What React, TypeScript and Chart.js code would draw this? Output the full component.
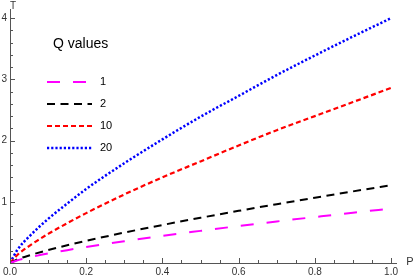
import React, { useEffect, useRef } from "react";
import { Chart, registerables } from "chart.js";

Chart.register(...registerables);

const P = [0, 0.02, 0.05, 0.1, 0.15, 0.2, 0.3, 0.4, 0.5, 0.6, 0.7, 0.8, 0.9, 1.0];
const q1 = [0, 0.046, 0.091, 0.155, 0.21, 0.262, 0.356, 0.444, 0.525, 0.604, 0.679, 0.751, 0.822, 0.89];
const q2 = [0, 0.06, 0.123, 0.211, 0.29, 0.362, 0.497, 0.621, 0.739, 0.852, 0.961, 1.067, 1.17, 1.27];
const q10 = [0, 0.135, 0.276, 0.475, 0.65, 0.815, 1.12, 1.4, 1.66, 1.92, 2.17, 2.4, 2.63, 2.86];
const q20 = [0, 0.22, 0.43, 0.72, 0.97, 1.21, 1.63, 2.02, 2.39, 2.73, 3.07, 3.39, 3.7, 4.0];

const seriesLabels = ["1", "2", "10", "20"];
const legendTitle = "Q values";
const xTitle = "P";
const yTitle = "T";

const xTickValues = [0, 0.05, 0.1, 0.15, 0.2, 0.25, 0.3, 0.35, 0.4, 0.45, 0.5, 0.55, 0.6, 0.65, 0.7, 0.75, 0.8, 0.85, 0.9, 0.95, 1.0];
const xMajor = [0, 0.2, 0.4, 0.6, 0.8, 1.0];
const yTickValues = [0.2, 0.4, 0.6, 0.8, 1, 1.2, 1.4, 1.6, 1.8, 2, 2.2, 2.4, 2.6, 2.8, 3, 3.2, 3.4, 3.6, 3.8, 4];
const yMajor = [1, 2, 3, 4];

const FONT = "'Liberation Sans', Arial, sans-serif";

const decorPlugin = {
  id: "decor",
  afterDraw(chart: any) {
    const ctx = chart.ctx;
    const xs = chart.scales.x;
    const ys = chart.scales.y;
    const area = chart.chartArea;
    ctx.save();
    ctx.strokeStyle = "#555";
    ctx.lineWidth = 1;
    xTickValues.forEach((v) => {
      const px = Math.round(xs.getPixelForValue(v)) + 0.5;
      const major = xMajor.some((m) => Math.abs(m - v) < 1e-6);
      const len = major ? 5 : 3;
      ctx.beginPath();
      ctx.moveTo(px, area.bottom);
      ctx.lineTo(px, area.bottom - len);
      ctx.stroke();
    });
    yTickValues.forEach((v) => {
      const py = Math.round(ys.getPixelForValue(v)) + 0.5;
      const major = yMajor.some((m) => Math.abs(m - v) < 1e-6);
      const len = major ? 5 : 3;
      ctx.beginPath();
      ctx.moveTo(area.left, py);
      ctx.lineTo(area.left + len, py);
      ctx.stroke();
    });
    ctx.fillStyle = "#333";
    ctx.font = `11px ${FONT}`;
    ctx.textAlign = "center";
    ctx.textBaseline = "middle";
    ctx.fillText(xTitle, area.right + 14, area.bottom - 1);
    ctx.font = `10px ${FONT}`;
    ctx.fillText(yTitle, area.left + 3, 6);
    ctx.fillStyle = "#000";
    ctx.font = `14px ${FONT}`;
    ctx.textAlign = "left";
    ctx.fillText(legendTitle, 53, 44);
    const rows = [82, 104, 126, 148];
    chart.data.datasets.forEach((ds: any, i: number) => {
      const y = rows[i];
      ctx.save();
      ctx.strokeStyle = ds.borderColor;
      ctx.lineWidth = ds.borderWidth;
      ctx.setLineDash(ds.borderDash || []);
      ctx.beginPath();
      ctx.moveTo(47, y);
      ctx.lineTo(92, y);
      ctx.stroke();
      ctx.restore();
      ctx.fillStyle = "#000";
      ctx.font = `11px ${FONT}`;
      ctx.textAlign = "left";
      ctx.textBaseline = "middle";
      ctx.fillText(ds.label, 100, y);
    });
    ctx.restore();
  },
};

export default function App() {
  const ref = useRef<HTMLCanvasElement | null>(null);
  useEffect(() => {
    if (!ref.current) return;
    const mk = (vals: number[]) => P.map((p, i) => ({ x: p, y: vals[i] }));
    const chart = new Chart(ref.current, {
      type: "line",
      data: {
        datasets: [
          { label: seriesLabels[0], data: mk(q1), borderColor: "#ff00ff", borderWidth: 2, borderDash: [13, 13] },
          { label: seriesLabels[1], data: mk(q2), borderColor: "#000000", borderWidth: 2, borderDash: [8, 5.5] },
          { label: seriesLabels[2], data: mk(q10), borderColor: "#ff0000", borderWidth: 2.2, borderDash: [5, 3] },
          { label: seriesLabels[3], data: mk(q20), borderColor: "#0000ff", borderWidth: 2.5, borderDash: [2.2, 2] },
        ] as any,
      },
      options: {
        animation: false,
        responsive: false,
        maintainAspectRatio: false,
        elements: { point: { radius: 0 }, line: { cubicInterpolationMode: "monotone", fill: false } },
        layout: { padding: { left: 0, right: 19, top: 8, bottom: 0 } },
        plugins: { legend: { display: false }, tooltip: { enabled: false } },
        scales: {
          x: {
            type: "linear",
            min: 0,
            max: 1.013,
            grid: { display: false, drawTicks: false },
            border: { display: true, color: "#555", width: 1 },
            ticks: {
              stepSize: 0.2,
              includeBounds: false,
              padding: 3,
              maxRotation: 0,
              autoSkip: false,
              color: "#333",
              font: { family: FONT, size: 10 },
              callback: (v: any) => Number(v).toFixed(1),
            },
            afterFit: (s: any) => {
              s.height = 16;
            },
          },
          y: {
            type: "linear",
            min: 0,
            max: 4.15,
            grid: { display: false, drawTicks: false },
            border: { display: true, color: "#555", width: 1 },
            ticks: {
              stepSize: 1,
              includeBounds: false,
              padding: 3,
              color: "#333",
              font: { family: FONT, size: 10 },
              callback: (v: any) => (Number(v) === 0 ? "" : String(v)),
            },
            afterFit: (s: any) => {
              s.width = 10;
            },
          },
        },
      } as any,
      plugins: [decorPlugin],
    });
    return () => chart.destroy();
  }, []);
  return (
    <div style={{ position: "fixed", left: 0, top: 0, width: 415, height: 279, background: "#fff" }}>
      <canvas ref={ref} width={415} height={279} style={{ display: "block", width: 415, height: 279 }} />
    </div>
  );
}
